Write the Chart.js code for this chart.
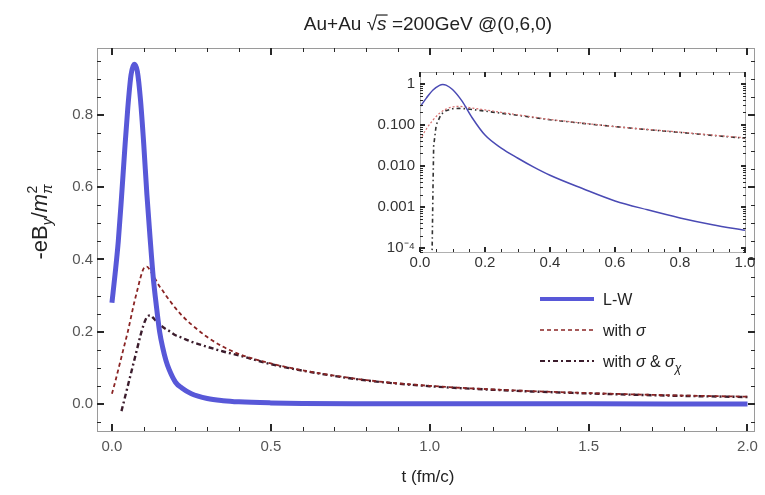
<!DOCTYPE html>
<html>
<head>
<meta charset="utf-8">
<script src="https://cdn.jsdelivr.net/npm/chart.js@4/dist/chart.umd.min.js"></script>
<style>
  body { margin: 0; background: #fff; }
  #wrap { position: relative; width: 765px; height: 495px; }
  #main, #mainTicks { position: absolute; left: 0; top: 0; }
  #mainTicks { pointer-events: none; }
  #inset { position: absolute; left: 370px; top: 58px; }
</style>
</head>
<body>
<div id="wrap">
  <canvas id="main" width="765" height="495"></canvas>
  <canvas id="mainTicks" width="765" height="495"></canvas>
  <canvas id="inset" width="395" height="220"></canvas>
</div>
<script>
// main panel: time grid (fm/c) and -eB_y/m_pi^2 for each model
const tMain = [0, 0.01, 0.02, 0.03, 0.04, 0.05, 0.06, 0.07, 0.08, 0.09, 0.10, 0.11, 0.12, 0.13, 0.14, 0.15, 0.16, 0.17, 0.18, 0.2, 0.22, 0.25, 0.3, 0.35, 0.4, 0.5, 0.6, 0.8, 1.0, 1.25, 1.5, 1.75, 2.0];
const lwMain = [0.28, 0.36, 0.45, 0.57, 0.70, 0.82, 0.91, 0.94, 0.92, 0.84, 0.72, 0.58, 0.46, 0.35, 0.27, 0.20, 0.155, 0.12, 0.095, 0.06, 0.044, 0.028, 0.015, 0.009, 0.0058, 0.0028, 0.0014, 0.00055, 0.00027, 0.00015, 0.0001, 0.00007, 0.00005];
const sigmaMain = [0.028, 0.06, 0.095, 0.13, 0.165, 0.20, 0.24, 0.28, 0.315, 0.35, 0.375, 0.38, 0.37, 0.355, 0.34, 0.325, 0.313, 0.30, 0.288, 0.265, 0.245, 0.22, 0.185, 0.158, 0.138, 0.112, 0.093, 0.066, 0.05, 0.038, 0.03, 0.024, 0.02];
const sigmaChiMain = [null, null, null, -0.02, 0.015, 0.05, 0.085, 0.12, 0.155, 0.19, 0.22, 0.24, 0.245, 0.238, 0.228, 0.22, 0.213, 0.207, 0.202, 0.19, 0.183, 0.172, 0.158, 0.145, 0.134, 0.11, 0.092, 0.065, 0.049, 0.037, 0.029, 0.023, 0.019];

// inset panel (log scale)
const tInsetLW = [0, 0.02, 0.04, 0.06, 0.07, 0.08, 0.1, 0.13, 0.16, 0.2, 0.25, 0.3, 0.35, 0.4, 0.5, 0.6, 0.7, 0.8, 0.9, 1.0];
const lwInset = [0.27, 0.45, 0.70, 0.91, 0.95, 0.92, 0.72, 0.37, 0.15, 0.056, 0.027, 0.0155, 0.0093, 0.0059, 0.0028, 0.0014, 0.00085, 0.00054, 0.00037, 0.00027];
const tInsetSigma = [0, 0.02, 0.04, 0.06, 0.08, 0.1, 0.12, 0.14, 0.16, 0.2, 0.25, 0.3, 0.4, 0.5, 0.6, 0.7, 0.8, 0.9, 1.0];
const sigmaInset = [0.042, 0.08, 0.13, 0.19, 0.24, 0.27, 0.28, 0.27, 0.255, 0.23, 0.2, 0.175, 0.135, 0.11, 0.09, 0.077, 0.066, 0.056, 0.048];
const tInsetChi = [0.037, 0.04, 0.042, 0.05, 0.065, 0.08, 0.1, 0.12, 0.14, 0.16, 0.2, 0.25, 0.3, 0.4, 0.5, 0.6, 0.7, 0.8, 0.9, 1.0];
const sigmaChiInset = [0.00006, 0.003, 0.03, 0.1, 0.18, 0.22, 0.245, 0.25, 0.245, 0.235, 0.215, 0.19, 0.17, 0.132, 0.108, 0.09, 0.076, 0.065, 0.055, 0.047];

// tick labels
const xTicksMain = [0, 0.5, 1.0, 1.5, 2.0];
const yTicksMain = [0, 0.2, 0.4, 0.6, 0.8];
const xTicksInset = [0, 0.2, 0.4, 0.6, 0.8, 1.0];
const yTicksInset = [1e-4, 1e-3, 1e-2, 0.1, 1];
const yLabelsInset = ['10\u207B\u2074', '0.001', '0.010', '0.100', '1'];

const FONT = '"Liberation Sans", Arial, sans-serif';
const BLUE = '#5858d8';
const RED = '#8a2424';
const DARK = '#3b1c2c';

const pts = (ts, ys) => ts.map((t, i) => ({ x: t, y: ys[i] })).filter(p => p.y !== null);

// draw a run of text pieces: {t, it (italic), dy (shift), s (size)}
function rich(ctx, x, y, parts, size) {
  parts.forEach(p => {
    const sz = p.s || size;
    ctx.font = (p.it ? 'italic ' : '') + sz + 'px ' + FONT;
    ctx.fillText(p.t, x, y + (p.dy || 0));
    const w = ctx.measureText(p.t).width;
    if (p.over) ctx.fillRect(x - 1, y - sz * 0.82, w + 2, 1.2);
    x += w;
  });
  return x;
}
function richWidth(ctx, parts, size) {
  let w = 0;
  parts.forEach(p => { ctx.font = (p.it ? 'italic ' : '') + (p.s || size) + 'px ' + FONT; w += ctx.measureText(p.t).width; });
  return w;
}

function linTicks(lo, hi, step, majors) {
  const out = [];
  const n = Math.round((hi - lo) / step);
  for (let i = 0; i <= n; i++) {
    const r = Math.round((lo + i * step) * 1000) / 1000;
    out.push({ v: r, big: majors.some(m => Math.abs(m - r) < 1e-6) });
  }
  return out;
}
function logTicks(lo, hi) {
  const out = [];
  for (let e = lo; e <= hi; e++) {
    for (let k = 1; k <= 9; k++) out.push({ v: k * Math.pow(10, e), big: k === 1 });
  }
  return out;
}

// pixel of a value on a scale, with a fallback on the scale's own extent
function px(scale, v, horizontal) {
  let p = scale.getPixelForValue(v);
  if (!isFinite(p)) {
    const f = (v - scale.min) / (scale.max - scale.min);
    p = horizontal ? scale.left + f * scale.width : scale.bottom - f * scale.height;
  }
  return p;
}

// Mathematica-like frame with inward ticks on all four sides
function drawFrame(ctx, chart, spec) {
  const a = chart.chartArea;
  const sx = chart.scales.x, sy = chart.scales.y;
  const L = Math.round(a.left), R = Math.round(a.right), T = Math.round(a.top), B = Math.round(a.bottom);
  ctx.save();
  ctx.setLineDash([]);
  ctx.fillStyle = spec.frameColor;
  ctx.fillRect(L, T, R - L, 1);
  ctx.fillRect(L, B, R - L + 1, 1);
  ctx.fillRect(L, T, 1, B - T);
  ctx.fillRect(R, T, 1, B - T);
  ctx.fillStyle = 'rgb(40,40,40)';
  spec.xt.forEach(tk => {
    const p = Math.round(px(sx, tk.v, true));
    if (!(p >= L && p <= R + 1)) return;
    const len = tk.big ? spec.bigLen : spec.smallLen;
    const w = tk.big ? 2 : 1;
    ctx.fillRect(p - (w > 1 ? 1 : 0), B - len, w, len);
    ctx.fillRect(p - (w > 1 ? 1 : 0), T, w, len);
  });
  spec.yt.forEach(tk => {
    const p = Math.round(px(sy, tk.v, false));
    if (!(p >= T && p <= B + 1)) return;
    const len = tk.big ? spec.bigLen : spec.smallLen;
    const w = tk.big ? 2 : 1;
    ctx.fillRect(L, p - (w > 1 ? 1 : 0), len, w);
    ctx.fillRect(R + 1 - len, p - (w > 1 ? 1 : 0), len, w);
  });
  ctx.restore();
}

// title, axis titles and legend of the main panel
const annotations = {
  id: 'annotations',
  afterDraw(chart) {
    const ctx = chart.ctx;
    ctx.save();
    ctx.fillStyle = '#222';
    ctx.textBaseline = 'alphabetic';
    const titleParts = [{ t: 'Au+Au ' }, { t: '\u221A' }, { t: 's', it: true, over: true }, { t: ' =200GeV @(0,6,0)' }];
    const tw = richWidth(ctx, titleParts, 19);
    rich(ctx, 428 - tw / 2, 30, titleParts, 19);

    ctx.font = '17px ' + FONT;
    ctx.textAlign = 'center';
    ctx.fillText('t (fm/c)', 428, 482);
    ctx.textAlign = 'left';

    ctx.save();
    ctx.translate(47, 222);
    ctx.rotate(-Math.PI / 2);
    const yParts = [
      { t: '-eB' }, { t: 'y', it: true, dy: 5, s: 14 }, { t: '/' }, { t: 'm', it: true },
      { t: '\u03C0', it: true, dy: 5, s: 14 }
    ];
    const yw = richWidth(ctx, yParts, 22);
    const endX = rich(ctx, -yw / 2, 0, yParts, 22);
    ctx.font = '14px ' + FONT;
    ctx.fillText('2', endX - 9, -10);
    ctx.restore();

    const lx0 = 540, lx1 = 594, tx = 603;
    const rows = [
      { y: 299, color: BLUE, w: 4, dash: [], parts: [{ t: 'L-W' }] },
      { y: 330, color: RED, w: 1.6, dash: [4, 3], parts: [{ t: 'with ' }, { t: '\u03C3', it: true }] },
      { y: 361, color: DARK, w: 2.2, dash: [5, 3, 2, 3], parts: [{ t: 'with ' }, { t: '\u03C3', it: true }, { t: ' & ' }, { t: '\u03C3', it: true }, { t: '\u03C7', it: true, dy: 5, s: 12 }] }
    ];
    rows.forEach(r => {
      ctx.strokeStyle = r.color;
      ctx.lineWidth = r.w;
      ctx.setLineDash(r.dash);
      ctx.beginPath(); ctx.moveTo(lx0, r.y); ctx.lineTo(lx1, r.y); ctx.stroke();
      ctx.setLineDash([]);
      ctx.fillStyle = '#222';
      rich(ctx, tx, r.y + 6, r.parts, 16);
    });
    ctx.restore();
  }
};

const mainSpec = { frameColor: '#9a9a9a', bigLen: 7, smallLen: 4, xt: linTicks(0, 2.0, 0.1, xTicksMain), yt: linTicks(-0.05, 0.95, 0.05, yTicksMain) };
const insetSpec = { frameColor: '#b0b0b0', bigLen: 5, smallLen: 3, xt: linTicks(0, 1.0, 0.05, xTicksInset), yt: logTicks(-5, 0) };

// frame for the main panel goes on its own overlay canvas, redrawn after every render
const overlay = document.getElementById('mainTicks').getContext('2d');
const mainOverlay = {
  id: 'mainOverlay',
  afterRender(chart) {
    overlay.clearRect(0, 0, 765, 495);
    drawFrame(overlay, chart, mainSpec);
  }
};

const mainChart = new Chart(document.getElementById('main'), {
  type: 'line',
  data: {
    datasets: [
      { label: 'L-W', data: pts(tMain, lwMain), borderColor: BLUE, borderWidth: 5, pointRadius: 0, cubicInterpolationMode: 'monotone' },
      { label: 'with \u03C3', data: pts(tMain, sigmaMain), borderColor: RED, borderWidth: 1.8, borderDash: [4, 3], pointRadius: 0, cubicInterpolationMode: 'monotone' },
      { label: 'with \u03C3 & \u03C3\u03C7', data: pts(tMain, sigmaChiMain), borderColor: DARK, borderWidth: 2.4, borderDash: [5, 3, 2, 3], pointRadius: 0, cubicInterpolationMode: 'monotone' }
    ]
  },
  options: {
    responsive: false,
    animation: false,
    layout: { padding: { top: 48, right: 8, left: 0, bottom: 0 } },
    plugins: { legend: { display: false }, tooltip: { enabled: false } },
    scales: {
      x: {
        type: 'linear', min: -0.047, max: 2.02,
        afterBuildTicks: s => { s.ticks = xTicksMain.map(v => ({ value: v })); },
        afterFit: s => { s.height = 64; },
        grid: { display: false, drawTicks: false }, border: { display: false },
        ticks: { padding: 7, color: '#555', font: { family: FONT, size: 15 }, maxRotation: 0, callback: v => v.toFixed(1) }
      },
      y: {
        min: -0.075, max: 0.985,
        afterBuildTicks: s => { s.ticks = yTicksMain.map(v => ({ value: v })); },
        afterFit: s => { s.width = 97; },
        grid: { display: false, drawTicks: false }, border: { display: false },
        ticks: { padding: 4, color: '#555', font: { family: FONT, size: 15 }, callback: v => v.toFixed(1) }
      }
    }
  },
  plugins: [annotations, mainOverlay]
});
// make sure the overlay holds the frame even if no render hook fired
drawFrame(overlay, mainChart, mainSpec);

new Chart(document.getElementById('inset'), {
  type: 'line',
  data: {
    datasets: [
      { label: 'L-W', data: pts(tInsetLW, lwInset), borderColor: '#4a4ab4', borderWidth: 1.5, pointRadius: 0, cubicInterpolationMode: 'monotone' },
      { label: 'with \u03C3', data: pts(tInsetSigma, sigmaInset), borderColor: '#d87070', borderWidth: 1.2, borderDash: [2, 2], pointRadius: 0, cubicInterpolationMode: 'monotone' },
      { label: 'with \u03C3 & \u03C3\u03C7', data: pts(tInsetChi, sigmaChiInset), borderColor: '#333', borderWidth: 1.6, borderDash: [4, 3, 1.5, 3], pointRadius: 0, tension: 0 }
    ]
  },
  options: {
    responsive: false,
    animation: false,
    layout: { padding: { top: 9, right: 20, left: 0, bottom: 0 } },
    plugins: { legend: { display: false }, tooltip: { enabled: false } },
    scales: {
      x: {
        type: 'linear', min: 0, max: 1.0,
        afterBuildTicks: s => { s.ticks = xTicksInset.map(v => ({ value: v })); },
        afterFit: s => { s.height = 26; },
        grid: { display: false, drawTicks: false }, border: { display: false },
        ticks: { padding: 2, color: '#333', font: { family: FONT, size: 15 }, maxRotation: 0, callback: v => v.toFixed(1) }
      },
      y: {
        type: 'logarithmic', min: 8e-5, max: 1.92,
        afterBuildTicks: s => { s.ticks = yTicksInset.map(v => ({ value: v })); },
        afterFit: s => { s.width = 50; },
        grid: { display: false, drawTicks: false }, border: { display: false },
        ticks: {
          padding: 5, color: '#333', font: { family: FONT, size: 15 },
          callback: v => yLabelsInset[yTicksInset.findIndex(t => Math.abs(Math.log10(t) - Math.log10(v)) < 1e-6)]
        }
      }
    }
  },
  plugins: [{ id: 'insetFrame', afterDraw: chart => drawFrame(chart.ctx, chart, insetSpec) }]
});
</script>
</body>
</html>
